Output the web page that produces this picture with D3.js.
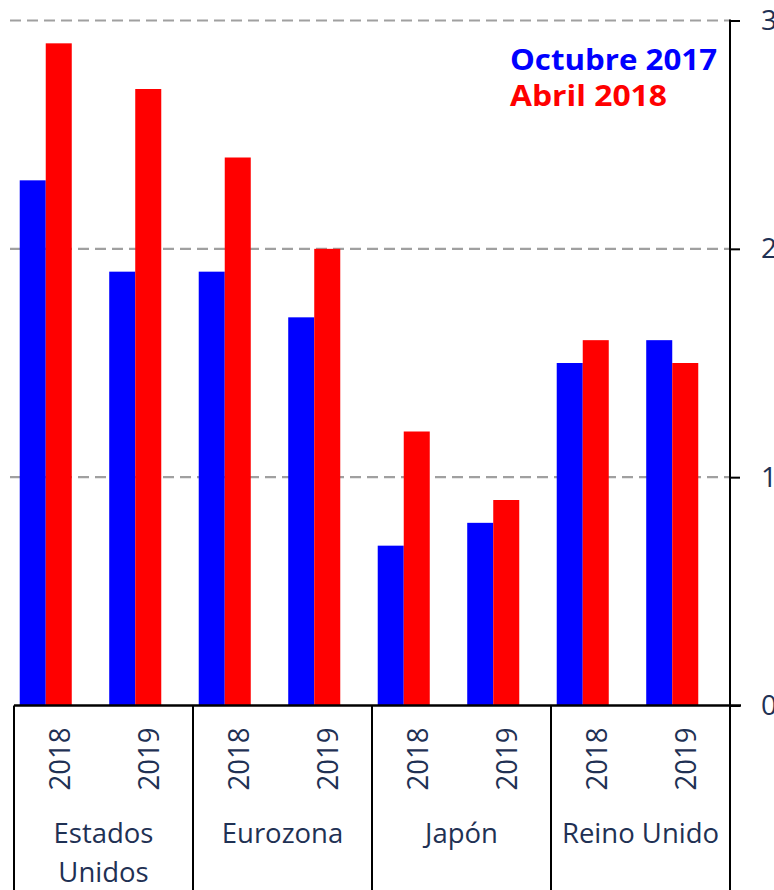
<!DOCTYPE html>
<html>
<head>
<meta charset="utf-8">
<script src="https://cdn.jsdelivr.net/npm/d3@7"></script>
<style>
  body { margin: 0; background: #fff; }
  svg { display: block; }
</style>
</head>
<body>
<div id="chart"></div>
<script>
// data
const regions = ["Estados Unidos", "Eurozona", "Japón", "Reino Unido"];
const regionLines = [["Estados", "Unidos"], ["Eurozona"], ["Japón"], ["Reino Unido"]];
const years = ["2018", "2019"];
const seriesNames = ["Octubre 2017", "Abril 2018"];
const octubre2017 = [2.3, 1.9, 1.9, 1.7, 0.7, 0.8, 1.5, 1.6];
const abril2018 = [2.9, 2.7, 2.4, 2.0, 1.2, 0.9, 1.6, 1.5];
const yTicks = [0, 1, 2, 3];

const width = 774, height = 890;
const plotLeft = 14, plotRight = 730, plotTop = 20.5, plotBottom = 705.5;
const navy = "#1f3154";
const colors = ["#0000ff", "#ff0000"];

const svg = d3.select("#chart").append("svg")
    .attr("width", width)
    .attr("height", height);

// one slot per region/year pair
const slots = [];
regions.forEach((r, i) => years.forEach((yr, j) => {
    const k = i * years.length + j;
    slots.push({ key: k, region: r, year: yr, values: [octubre2017[k], abril2018[k]] });
}));

const x = d3.scaleBand().domain(slots.map(d => d.key)).range([plotLeft, plotRight]).padding(0);
// third (empty) sub-band mimics the spacing of the original
const xSub = d3.scaleBand().domain([0, 1, 2]).range([0, x.bandwidth()]).paddingInner(0).paddingOuter(0.22);
const y = d3.scaleLinear().domain([0, 3]).range([plotBottom, plotTop]);

// dashed gridlines
svg.append("g")
    .selectAll("line")
    .data(yTicks.filter(t => t > 0))
    .join("line")
    .attr("x1", plotLeft - 4).attr("x2", plotRight)
    .attr("y1", d => y(d)).attr("y2", d => y(d))
    .attr("stroke", "#a0a0a0")
    .attr("stroke-width", 2.2)
    .attr("stroke-dasharray", "11,6");

// bars
const groups = svg.append("g")
    .selectAll("g")
    .data(slots)
    .join("g")
    .attr("transform", d => `translate(${x(d.key)},0)`);

groups.selectAll("rect")
    .data(d => d.values.map((v, i) => ({ v, i })))
    .join("rect")
    .attr("x", d => xSub(d.i))
    .attr("width", xSub.bandwidth())
    .attr("y", d => y(d.v))
    .attr("height", d => y(0) - y(d.v))
    .attr("fill", d => colors[d.i]);

// right axis (labels run off the edge, as in the original)
const yAxis = d3.axisRight(y).tickValues(yTicks).tickSize(10).tickSizeOuter(0).tickPadding(21);
const ag = svg.append("g")
    .attr("transform", `translate(${plotRight},0)`)
    .call(yAxis);
ag.select(".domain").remove();
ag.selectAll(".tick line").attr("stroke", "#000").attr("stroke-width", 2);
ag.selectAll(".tick text")
    .attr("fill", navy)
    .style("font-family", "'Open Sans', sans-serif")
    .style("font-size", "28px");

svg.append("line")
    .attr("x1", plotRight).attr("x2", plotRight)
    .attr("y1", plotTop - 1).attr("y2", height)
    .attr("stroke", "#000").attr("stroke-width", 2);

// category axis baseline and group dividers
svg.append("line")
    .attr("x1", plotLeft).attr("x2", plotRight + 11)
    .attr("y1", y(0)).attr("y2", y(0))
    .attr("stroke", "#000").attr("stroke-width", 2.5);

svg.append("g")
    .selectAll("line")
    .data(regions.map((r, i) => i * years.length))
    .join("line")
    .attr("x1", d => x(d)).attr("x2", d => x(d))
    .attr("y1", y(0)).attr("y2", height)
    .attr("stroke", "#000").attr("stroke-width", 2);

// year labels (rotated)
svg.append("g")
    .selectAll("text")
    .data(slots)
    .join("text")
    .attr("transform", d => `translate(${x(d.key) + x.bandwidth() / 2 + 11},${y(0) + 22}) rotate(-90)`)
    .attr("text-anchor", "end")
    .attr("fill", navy)
    .style("font-family", "'Open Sans', sans-serif")
    .style("font-size", "30px")
    .attr("textLength", 63)
    .attr("lengthAdjust", "spacingAndGlyphs")
    .text(d => d.year);

// region labels
const groupCenter = i => (x(i * 2) + x(i * 2 + 1) + x.bandwidth()) / 2;
svg.append("g")
    .selectAll("text")
    .data(regions.map((r, i) => i))
    .join("text")
    .attr("y", 843)
    .attr("text-anchor", "middle")
    .attr("fill", navy)
    .style("font-family", "'Open Sans', sans-serif")
    .style("font-size", "27.5px")
    .selectAll("tspan")
    .data(i => regionLines[i].map(t => ({ t, cx: groupCenter(i) })))
    .join("tspan")
    .attr("x", d => d.cx)
    .attr("dy", (d, i) => i === 0 ? 0 : 39)
    .text(d => d.t);

// legend
svg.append("g")
    .selectAll("text")
    .data(seriesNames)
    .join("text")
    .attr("x", 510)
    .attr("y", (d, i) => 70 + i * 36)
    .attr("fill", (d, i) => colors[i])
    .style("font-family", "'Open Sans', sans-serif")
    .style("font-weight", "bold")
    .style("font-size", "29px")
    .attr("textLength", (d, i) => i === 0 ? 207 : 157)
    .attr("lengthAdjust", "spacingAndGlyphs")
    .text(d => d);
</script>
</body>
</html>
